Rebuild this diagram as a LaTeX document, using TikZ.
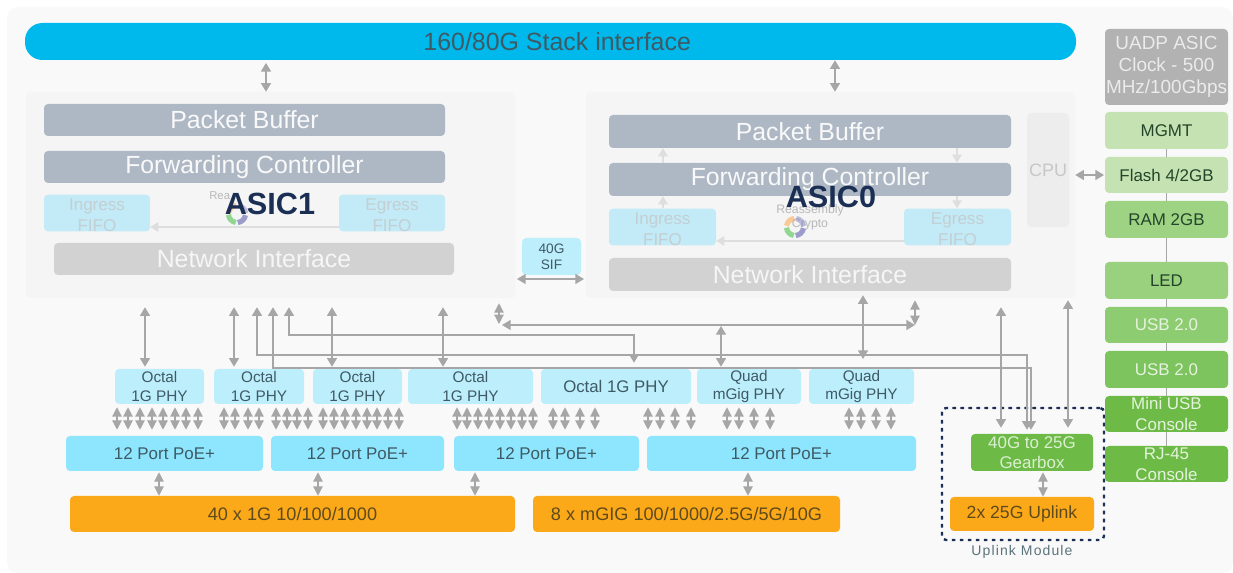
\documentclass[tikz,border=0pt]{standalone}
\usepackage{fontspec}
\setmainfont{Liberation Sans}
\usetikzlibrary{arrows.meta}
\definecolor{wire}{HTML}{A6A6A6}
\definecolor{softw}{HTML}{DEDEDE}
\definecolor{stack}{HTML}{00B9EC}
\definecolor{poe}{HTML}{8EE6FE}
\definecolor{phy}{HTML}{BDEEFC}
\definecolor{fifo}{HTML}{C2EAF7}
\definecolor{fifot}{HTML}{C3CFD3}
\definecolor{pbuf}{HTML}{AEB8C5}
\definecolor{netif}{HTML}{D2D2D2}
\definecolor{orng}{HTML}{FBA919}
\definecolor{gear}{HTML}{6DBB46}
\definecolor{navy}{HTML}{1B2F55}
\definecolor{inkb}{HTML}{3E5A64}
\definecolor{inko}{HTML}{5F4A1C}
\definecolor{inkg}{HTML}{24452A}
\newcommand\fsz[2]{\fontsize{#1}{#2}\selectfont}
\newcommand\bx[7]{\node[box,#6,minimum width={(#4-#2)*0.75pt},minimum height={(#5-#3)*0.75pt}] (#1) at ({(#2+#4)/2},{(#3+#5)/2}) {#7};}
\newcommand\logo[1]{%
  \begin{scope}[shift={(#1)},line width=3.9pt,opacity=.55]
    \draw[orange!70] (188:8.5) arc[start angle=188,end angle=265,radius=8.5];
    \draw[blue!35!gray!70] (278:8.5) arc[start angle=278,end angle=355,radius=8.5];
    \draw[blue!35!gray] (8:8.5) arc[start angle=8,end angle=85,radius=8.5];
    \draw[green!50!gray] (98:8.5) arc[start angle=98,end angle=175,radius=8.5];
  \end{scope}}
\newcommand\ffa{\rule{0pt}{12.2pt}}
\tikzset{
  box/.style={rounded corners=3pt,inner sep=0pt,align=center},
  bi/.style={draw=wire,line width=1.1pt,{Triangle[width=7.5pt,length=6.5pt]}-{Triangle[width=7.5pt,length=6.5pt]}},
  tiny/.style={draw=wire,line width=.9pt,{Triangle[width=7pt,length=7pt]}-{Triangle[width=7pt,length=7pt]},shorten <=2.25pt,shorten >=4.5pt},
  soft/.style={draw=softw,line width=1.1pt,-{Triangle[width=7pt,length=6pt]}},
  rail/.style={draw=wire,line width=1pt},
  sbar/.style={fill=stack,text=inkb,rounded corners=13pt,font=\fsz{18.7}{20}},
  pb/.style={fill=pbuf,text=white!92!pbuf,font=\fsz{18.6}{20}},
  ni/.style={fill=netif,text=white!80!netif,font=\fsz{18.6}{20}},
  ff/.style={fill=fifo,text=fifot,font=\fsz{12.8}{14.3}},
  phyb/.style={fill=phy,text=inkb,font=\fsz{11.5}{13.7}},
  poeb/.style={fill=poe,text=inkb,font=\fsz{12.7}{15}},
  orb/.style={fill=orng,text=inko,font=\fsz{13.6}{15}},
  gb/.style={fill=gear,text=white!75!gear,font=\fsz{12.7}{15}},
  rc/.style={text=inkg,font=\fsz{12.7}{15}},
  rcl/.style={text=white!82!gear,font=\fsz{12.7}{15}},
  asict/.style={text=navy,font=\fsz{23}{25}\bfseries,inner sep=0pt},
  faint/.style={text=black!28,font=\fsz{9.2}{10},inner sep=0pt},
}
\begin{document}
\begin{tikzpicture}[x=0.75pt,y=-0.75pt]
\useasboundingbox (0,0) rectangle (1233,573);
\fill[white] (0,0) rectangle (1233,573);
\node[fill=black!2.5,rounded corners=8pt,inner sep=0pt,minimum width={1226*0.75pt},minimum height={566*0.75pt}] (bgpanel) at (620,290) {};
% panels
\bx{asicA}{26}{92}{515}{298}{fill=black!4}{}
\bx{asicB}{586}{92}{1075}{298}{fill=black!4}{}
\bx{bar}{25}{23}{1076}{60}{sbar}{\hspace*{10pt}160/80G Stack interface}
% ASIC1
\bx{pbA}{44}{104}{445}{136}{pb}{Packet Buffer}
\bx{fcA}{44}{151}{445}{183}{pb}{Forwarding Controller}
\bx{inA}{44}{197}{150}{229}{ff}{\ffa Ingress\\[1pt]FIFO}
\bx{egA}{339}{197}{445}{229}{ff}{\ffa Egress\\[1pt]FIFO}
\bx{niA}{54}{243}{454}{275}{ni}{Network Interface}
\draw[soft] (egA.west |- 0,227) -- (inA.east |- 0,227);
\node[faint,anchor=west,font=\fsz{8.5}{10}] (reaA) at (209,196) {Rea};
\logo{237,214}
\node[asict] (tA) at (270,204) {ASIC1};
% ASIC0
\bx{pbB}{609}{115}{1011}{148}{pb}{Packet Buffer}
\bx{fcB}{609}{163}{1011}{196}{pb}{Forwarding Controller}
\bx{inB}{609}{211}{716}{243}{ff}{\ffa Ingress\\[1pt]FIFO}
\bx{egB}{904}{211}{1011}{243}{ff}{\ffa Egress\\[1pt]FIFO}
\bx{niB}{609}{258}{1011}{291}{ni}{Network Interface}
\bx{cpu}{1027}{113}{1069}{227}{fill=black!7,text=black!22,font=\fsz{13.5}{15}}{CPU}
\draw[soft] (fcB.north -| 663,0) -- (pbB.south -| 663,0);
\draw[soft] (inB.north -| 663,0) -- (fcB.south -| 663,0);
\draw[soft] (pbB.south -| 957,0) -- (fcB.north -| 957,0);
\draw[soft] (fcB.south -| 957,0) -- (egB.north -| 957,0);
\draw[soft] (egB.west |- 0,241) -- (inB.east |- 0,241);
\node[faint] (reaB) at (810,210) {Reassembly};
\node[faint] (cryB) at (810,224) {Crypto};
\logo{795,227}
\node[asict] (tB) at (831,197) {ASIC0};
% SIF
\bx{sif}{522}{238}{581}{275}{fill=phy,text=inkb,font=\fsz{10.3}{11.8}}{40G\\SIF}
\coordinate (sifL) at (517,279); \coordinate (sifR) at (584,279);
\draw[bi] (sifL) -- (sifR);
% stack arrows
\draw[bi,shorten <=2pt] (bar.south -| 266,0) -- (asicA.north -| 266,0);
\draw[bi] (bar.south -| 835,0) -- (asicB.north -| 835,0);
% PHY
\bx{ph1}{115}{369}{204}{404}{phyb}{Octal\\1G PHY}
\bx{ph2}{214}{369}{304}{404}{phyb}{Octal\\1G PHY}
\bx{ph3}{313}{369}{402}{404}{phyb}{Octal\\1G PHY}
\bx{ph4}{408}{369}{533}{404}{phyb}{Octal\\1G PHY}
\bx{ph5}{541}{369}{691}{404}{phyb,font=\fsz{12.6}{15}}{Octal 1G PHY}
\bx{ph6}{697}{369}{801}{404}{phyb}{Quad\\mGig PHY}
\bx{ph7}{809}{369}{914}{404}{phyb}{Quad\\mGig PHY}
% PoE
\bx{poe1}{66}{436}{263}{471}{poeb}{12 Port PoE+}
\bx{poe2}{271}{436}{444}{471}{poeb}{12 Port PoE+}
\bx{poe3}{454}{436}{639}{471}{poeb}{12 Port PoE+}
\bx{poe4}{647}{436}{916}{471}{poeb}{12 Port PoE+}
% ports
\bx{or1}{70}{496}{515}{532}{orb}{40 x 1G 10/100/1000}
\bx{or2}{533}{496}{840}{532}{orb}{8 x mGIG 100/1000/2.5G/5G/10G}
% uplink module
\bx{upm}{942}{408}{1104}{540}{draw=navy,line width=1.8pt,dash pattern=on 2.8pt off 3.2pt}{}
\bx{gbox}{971}{434}{1093}{471}{gb}{40G to 25G\\Gearbox}
\bx{upl}{950}{497}{1094}{531}{orb,font=\fsz{13.2}{15}}{2x 25G Uplink}
\node[text=inkb!85,font=\fsz{10.5}{12}\addfontfeatures{LetterSpace=8},inner sep=0pt] (uplbl) at (1022,552) {Uplink Module};
% small arrows
\foreach \x in {117,128,140,152,163,175,186,198} \draw[tiny] (ph1.south -| \x,0) -- (poe1.north -| \x,0);
\foreach \x in {224,235,248,259} \draw[tiny] (ph2.south -| \x,0) -- (poe1.north -| \x,0);
\foreach \x in {276,287,297,308} \draw[tiny] (ph2.south -| \x,0) -- (poe2.north -| \x,0);
\foreach \x in {323,334,345,356,367,377,388,399} \draw[tiny] (ph3.south -| \x,0) -- (poe2.north -| \x,0);
\foreach \x in {457,467,478,489,500,511,522,533} \draw[tiny] (ph4.south -| \x,0) -- (poe3.north -| \x,0);
\foreach \x in {553,565,580,595} \draw[tiny] (ph5.south -| \x,0) -- (poe3.north -| \x,0);
\foreach \x in {648,660,675,691} \draw[tiny] (ph5.south -| \x,0) -- (poe4.north -| \x,0);
\foreach \x in {727,739,754,770} \draw[tiny] (ph6.south -| \x,0) -- (poe4.north -| \x,0);
\foreach \x in {849,861,876,891} \draw[tiny] (ph7.south -| \x,0) -- (poe4.north -| \x,0);
\draw[tiny,shorten <=.75pt,shorten >=0pt] (poe1.south -| 159,0) -- (or1.north -| 159,0);
\draw[tiny,shorten <=.75pt,shorten >=0pt] (poe2.south -| 318,0) -- (or1.north -| 318,0);
\draw[tiny,shorten <=.75pt,shorten >=0pt] (poe3.south -| 475,0) -- (or1.north -| 475,0);
\draw[tiny,shorten <=.75pt,shorten >=0pt] (poe4.south -| 748,0) -- (or2.north -| 748,0);
\draw[tiny,shorten <=.75pt,shorten >=0pt] (gbox.south -| 1043,0) -- (upl.north -| 1043,0);
% long connectors
\tikzset{fromA/.style={bi,shorten <=6.75pt,shorten >=1.5pt}}
\draw[fromA] (asicA.south -| 145,0) -- (ph1.north -| 145,0);
\draw[fromA] (asicA.south -| 234,0) -- (ph2.north -| 234,0);
\draw[fromA] (asicA.south -| 332,0) -- (ph3.north -| 332,0);
\draw[fromA] (asicA.south -| 443,0) -- (ph4.north -| 443,0);
\draw[fromA,shorten >=4.5pt] (asicA.south -| 289,0) |- (634,335) -- (ph5.north -| 634,0);
\draw[fromA,shorten >=3pt] (asicA.south -| 257,0) |- (1027,355) -- (gbox.north -| 1027,0);
\draw[fromA,shorten >=3pt] (asicA.south -| 273,0) |- (1031,368) -- (gbox.north -| 1031,0);
\coordinate (busL) at (502,325); \coordinate (busR) at (915,325);
\draw[bi] (busL) -- (busR);
\draw[tiny,shorten <=3.75pt,shorten >=0pt] (asicA.south -| 499,0) -- (499,324);
\draw[tiny,shorten <=1.5pt,shorten >=0pt] (asicB.south -| 915,0) -- (busR);
\draw[bi,shorten >=1.5pt] (721,326) -- (ph6.north -| 721,0);
\coordinate (busB) at (863,359);
\draw[bi] (niB.south -| 863,0) ++(0,4) -- (busB);
\draw[bi,shorten <=6.75pt,shorten >=4.5pt] (asicB.south -| 1001,0) -- (gbox.north -| 1001,0);
\draw[bi,shorten <=1.5pt,shorten >=4.5pt] (asicB.south -| 1068,0) -- (gbox.north -| 1068,0);
% right column
\bx{uadp}{1105}{29}{1228}{105}{fill=black!30,text=black!8,font=\fsz{14.2}{16.5}}{UADP ASIC\\Clock - 500\\MHz/100Gbps}
\bx{mgmt}{1105}{112}{1228}{149}{fill={rgb,255:red,197;green,227;blue,178},rc}{MGMT}
\bx{flash}{1105}{157}{1228}{193}{fill={rgb,255:red,197;green,227;blue,178},rc}{Flash 4/2GB}
\bx{ram}{1105}{201}{1228}{238}{fill={rgb,255:red,159;green,211;blue,132},rc}{RAM 2GB}
\bx{led}{1105}{262}{1228}{299}{fill={rgb,255:red,154;green,209;blue,127},rc}{LED}
\bx{usbA}{1105}{307}{1228}{343}{fill={rgb,255:red,142;green,204;blue,114},rcl}{USB 2.0}
\bx{usbB}{1105}{351}{1228}{388}{fill={rgb,255:red,125;green,195;blue,94},rcl}{USB 2.0}
\bx{mini}{1105}{396}{1228}{432}{fill=gear,rcl}{Mini USB\\[1pt]Console}
\bx{rj}{1105}{446}{1228}{482}{fill=gear,rcl}{RJ-45\\[1pt]Console}
\draw[rail] (mgmt) -- (flash);
\draw[rail] (flash) -- (ram);
\draw[rail] (ram) -- (led);
\draw[rail] (led) -- (usbA);
\draw[rail] (usbA) -- (usbB);
\draw[rail] (usbB) -- (mini);
\draw[rail] (mini) -- (rj);
\draw[bi,shorten <=4.5pt,shorten >=.5pt] (cpu.east |- 0,175) -- (flash.west |- 0,175);
\end{tikzpicture}
\end{document}
